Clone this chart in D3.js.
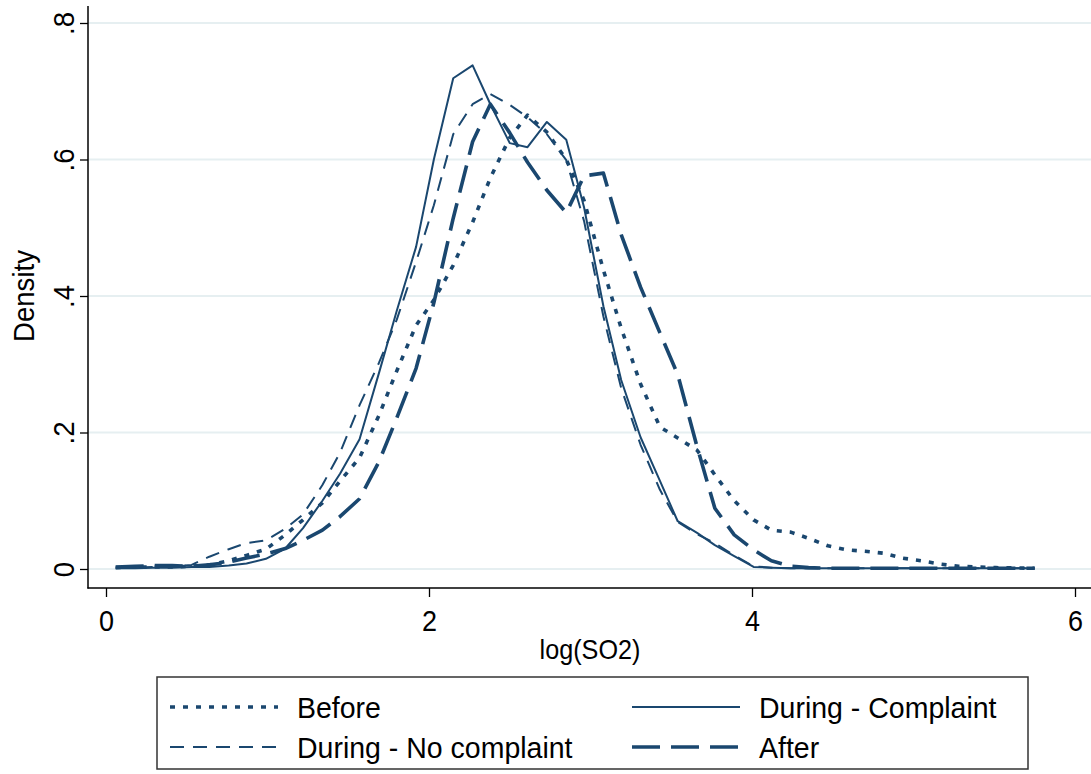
<!DOCTYPE html>
<html><head><meta charset="utf-8">
<script src="https://cdn.jsdelivr.net/npm/d3@7"></script>
<style>
body{margin:0;background:#fff}
svg text{font-family:"Liberation Sans",Arial,Helvetica,sans-serif;fill:#000}
</style>
</head><body>
<svg id="chart" width="1091" height="774"></svg>
<script>
// ---- data ----
const xGrid = [0.06,0.18,0.29,0.41,0.53,0.64,0.76,0.87,0.99,1.11,1.22,1.34,1.45,1.57,1.69,1.80,1.92,2.03,2.15,2.27,
  2.38,2.50,2.61,2.73,2.85,2.96,3.08,3.19,3.31,3.43,3.54,3.66,3.77,3.89,4.01,4.12,4.24,4.35,4.47,4.59,
  4.70,4.82,4.93,5.05,5.17,5.28,5.40,5.51,5.63,5.75];
const before = [0.002,0.003,0.003,0.003,0.004,0.006,0.012,0.020,0.029,0.050,0.072,0.097,0.129,0.163,0.225,0.290,0.357,0.394,0.445,0.508,
  0.573,0.632,0.665,0.640,0.600,0.540,0.438,0.353,0.271,0.208,0.192,0.174,0.138,0.100,0.072,0.057,0.054,0.045,0.034,0.028,
  0.026,0.023,0.016,0.012,0.007,0.004,0.003,0.002,0.0015,0.001];
const duringComplaint = [0.001,0.001,0.002,0.002,0.003,0.003,0.005,0.008,0.015,0.030,0.060,0.100,0.140,0.190,0.287,0.378,0.472,0.600,0.719,0.738,
  0.681,0.624,0.618,0.655,0.629,0.530,0.385,0.277,0.193,0.129,0.070,0.053,0.035,0.019,0.003,0.002,0.001,0.001,0.001,0.001,
  0.001,0.001,0.001,0.001,0.001,0.001,0.001,0.001,0.001,0.001];
const duringNoComplaint = [0.002,0.002,0.003,0.004,0.006,0.018,0.029,0.038,0.042,0.059,0.080,0.123,0.171,0.240,0.302,0.365,0.450,0.533,0.637,0.681,
  0.696,0.680,0.662,0.637,0.599,0.510,0.370,0.265,0.182,0.116,0.069,0.051,0.038,0.020,0.004,0.002,0.001,0.001,0.001,0.001,
  0.001,0.001,0.001,0.001,0.001,0.001,0.001,0.001,0.001,0.001];
const after = [0.003,0.004,0.005,0.005,0.004,0.006,0.010,0.016,0.022,0.030,0.042,0.057,0.077,0.103,0.157,0.221,0.294,0.390,0.514,0.626,
  0.681,0.639,0.596,0.555,0.522,0.576,0.580,0.490,0.413,0.346,0.285,0.179,0.089,0.050,0.028,0.012,0.004,0.002,0.001,0.001,
  0.001,0.001,0.001,0.001,0.001,0.001,0.001,0.001,0.001,0.001];
const seriesNames = ["Before","During - Complaint","During - No complaint","After"];
const xTicks = [0,2,4,6];
const yTicks = [0,0.2,0.4,0.6,0.8];
const yTickLabels = ["0",".2",".4",".6",".8"];
const xTitle = "log(SO2)";
const yTitle = "Density";

// ---- styles ----
const navy = "#1a476f";
const styles = {
  "Before": {w:3.6, dash:"5,8"},
  "During - Complaint": {w:2, dash:null},
  "During - No complaint": {w:2, dash:"14,9"},
  "After": {w:3.6, dash:"28,11"}
};
const seriesData = {
  "Before": before,
  "During - Complaint": duringComplaint,
  "During - No complaint": duringNoComplaint,
  "After": after
};

const svg = d3.select("#chart");
const plotL = 88, plotR = 1091, plotT = 6, plotB = 588;
const x = d3.scaleLinear().domain([0,6]).range([106,1075]);
const y = d3.scaleLinear().domain([0,0.8]).range([569,23]);

// gridlines
svg.append("g").selectAll("line").data(yTicks).join("line")
  .attr("x1", plotL).attr("x2", plotR)
  .attr("y1", d=>y(d)).attr("y2", d=>y(d))
  .attr("stroke", "#e6eff1").attr("stroke-width", 2);

// curves
const line = d3.line().x((d,i)=>x(xGrid[i])).y(d=>y(d));
const drawOrder = ["Before","During - No complaint","During - Complaint","After"];
svg.append("g").selectAll("path").data(drawOrder).join("path")
  .attr("d", k=>line(seriesData[k]))
  .attr("fill","none")
  .attr("stroke", navy)
  .attr("stroke-width", k=>styles[k].w)
  .attr("stroke-dasharray", k=>styles[k].dash)
  .attr("stroke-linejoin","round");

// axes
const yAxis = d3.axisLeft(y).tickValues(yTicks).tickSize(8).tickFormat((d,i)=>yTickLabels[i]);
const gy = svg.append("g").attr("transform", `translate(${plotL},0)`).call(yAxis);
gy.select(".domain").remove();
gy.selectAll(".tick line").attr("stroke","#000").attr("stroke-width",1.3);
gy.selectAll(".tick text")
  .attr("x",0).attr("y",0).attr("dy",0)
  .attr("text-anchor","middle")
  .attr("transform",`translate(-14,0) rotate(-90) scale(0.92,1)`)
  .style("font-size","30px").attr("fill","#000");

const xAxis = d3.axisBottom(x).tickValues(xTicks).tickSize(9).tickFormat(d3.format("d"));
const gx = svg.append("g").attr("transform", `translate(0,${plotB})`).call(xAxis);
gx.select(".domain").remove();
gx.selectAll(".tick line").attr("stroke","#000").attr("stroke-width",1.3);
gx.selectAll(".tick text")
  .attr("y",43).attr("dy",0)
  .attr("transform",`scale(0.9,1)`)
  .style("font-size","30px").attr("fill","#000");

svg.append("line").attr("x1",plotL).attr("x2",plotL).attr("y1",plotT).attr("y2",plotB+0.6)
  .attr("stroke","#000").attr("stroke-width",1.5);
svg.append("line").attr("x1",plotL-0.6).attr("x2",plotR).attr("y1",plotB).attr("y2",plotB)
  .attr("stroke","#000").attr("stroke-width",1.5);

// titles
svg.append("text").attr("transform",`translate(590,659) scale(0.9,1)`)
  .attr("text-anchor","middle").style("font-size","28px").text(xTitle);
svg.append("text").attr("transform",`translate(34,296) rotate(-90) scale(0.92,1)`)
  .attr("text-anchor","middle").style("font-size","30px").text(yTitle);

// legend
svg.append("rect").attr("x",157).attr("y",677).attr("width",871).attr("height",92)
  .attr("fill","#fff").attr("stroke","#333").attr("stroke-width",1.5);
const legendPos = [
  {k:"Before", x:170, y:707},
  {k:"During - Complaint", x:632, y:707},
  {k:"During - No complaint", x:170, y:747},
  {k:"After", x:632, y:747}
];
const lg = svg.append("g").selectAll("g").data(legendPos).join("g")
  .attr("transform", d=>`translate(${d.x},${d.y})`);
lg.append("line").attr("x1",0).attr("x2",108).attr("y1",0).attr("y2",0)
  .attr("stroke",navy).attr("stroke-width",d=>styles[d.k].w)
  .attr("stroke-dasharray",d=>styles[d.k].dash);
lg.append("text").attr("transform",`translate(127,11) scale(0.95,1)`)
  .style("font-size","30px").text(d=>d.k);
</script>
</body></html>
